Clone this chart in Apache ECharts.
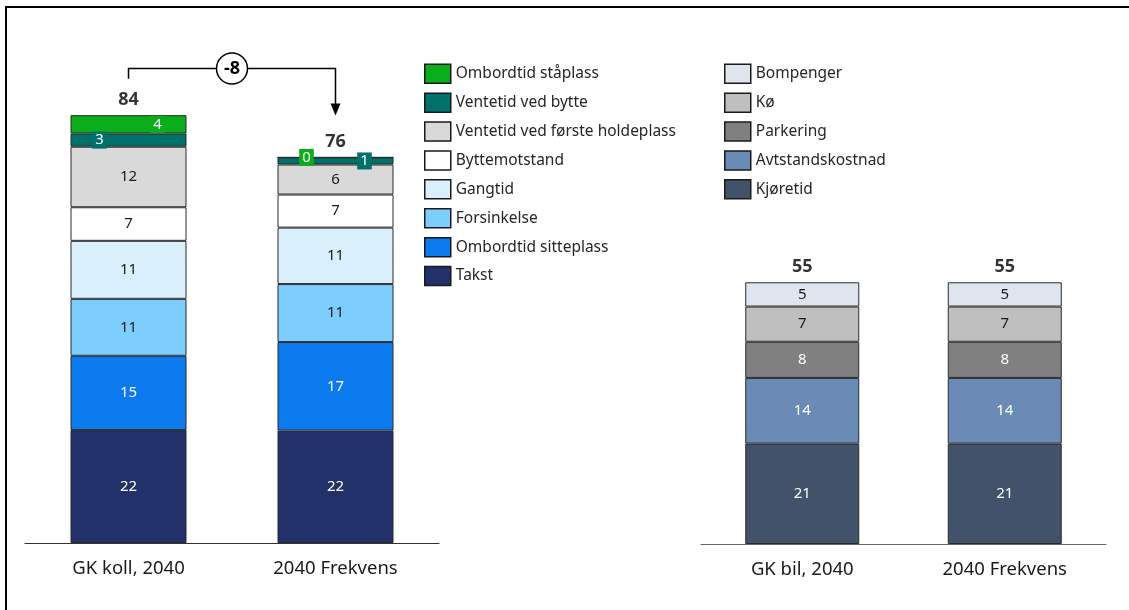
<!DOCTYPE html>
<html>
<head>
    <meta charset="utf-8">
    <script src="https://cdn.jsdelivr.net/npm/echarts@6/dist/echarts.min.js"></script>
    <style>
    html, body { margin: 0; padding: 0; background: #fff; }
    #main { width: 1129px; height: 610px; }
    </style>
    <title>Generaliserte kostnader 2040</title>
</head>
<body>
    <div id="main"></div>
    <script type="text/javascript">

        // kollektiv (venstre figur), verdier nedenfra og opp
        var kollCats = ['GK koll, 2040', '2040 Frekvens'];
        var takst = [22.2, 22.1];
        var sitteplass = [14.6, 17.4];
        var forsinkelse = [11.2, 11.4];
        var gangtid = [11.4, 11.1];
        var byttemotstand = [6.6, 6.5];
        var ventetidForste = [11.9, 5.9];
        var ventetidBytte = [2.6, 1.4];
        var staplass = [3.6, 0];

        // bil (høyre figur)
        var bilCats = ['GK bil, 2040', '2040 Frekvens'];
        var kjoretid = [21.1, 21.1];
        var avstand = [13.8, 13.8];
        var parkering = [7.6, 7.6];
        var ko = [7.4, 7.4];
        var bompenger = [5.1, 5.1];

        var font = 'Noto Sans';

        var kollSeries = [
            {name: 'Takst', data: takst, color: '#22316a', text: '#fff'},
            {name: 'Ombordtid sitteplass', data: sitteplass, color: '#0a7aee', text: '#fff'},
            {name: 'Forsinkelse', data: forsinkelse, color: '#7dcdff', text: '#1a1a1a'},
            {name: 'Gangtid', data: gangtid, color: '#daeffc', text: '#1a1a1a'},
            {name: 'Byttemotstand', data: byttemotstand, color: '#ffffff', text: '#1a1a1a'},
            {name: 'Ventetid ved første holdeplass', data: ventetidForste, color: '#d9d9d9', text: '#1a1a1a'},
            {name: 'Ventetid ved bytte', data: ventetidBytte, color: '#00706a', text: '#fff', offs: [-29, 29]},
            {name: 'Ombordtid ståplass', data: staplass, color: '#0aae1b', text: '#fff', offs: [29, -29]}
        ];
        var bilSeries = [
            {name: 'Kjøretid', data: kjoretid, color: '#42526a', text: '#fff'},
            {name: 'Avtstandskostnad', data: avstand, color: '#6b8bb7', text: '#fff'},
            {name: 'Parkering', data: parkering, color: '#808080', text: '#fff'},
            {name: 'Kø', data: ko, color: '#bfbfbf', text: '#1a1a1a'},
            {name: 'Bompenger', data: bompenger, color: '#dee5ef', text: '#1a1a1a'}
        ];

        function totals(list, n) {
            var t = [];
            for (var i = 0; i < n; i++) {
                var s = 0;
                list.forEach(function (d) { s += d.data[i]; });
                t.push(s);
            }
            return t;
        }
        var kollTot = totals(kollSeries, kollCats.length);
        var bilTot = totals(bilSeries, bilCats.length);

        function makeBars(list, idx, stack, width) {
            return list.map(function (d) {
                var data = d.data.map(function (v, i) {
                    if (!d.offs) return v;
                    return {
                        value: v,
                        label: {
                            offset: [d.offs[i], 0],
                            backgroundColor: d.color,
                            padding: [2, 3, 0, 3]
                        }
                    };
                });
                return {
                    name: d.name,
                    type: 'bar',
                    stack: stack,
                    xAxisIndex: idx,
                    yAxisIndex: idx,
                    barWidth: width,
                    data: data,
                    itemStyle: {color: d.color, borderColor: '#2b2b2b', borderWidth: 1},
                    label: {
                        show: true,
                        position: 'inside',
                        color: d.text,
                        fontFamily: font,
                        fontSize: 15,
                        formatter: function (p) { return Math.round(p.value); }
                    },
                    emphasis: {disabled: true}
                };
            });
        }

        function totalSeries(tot, idx) {
            return {
                type: 'scatter',
                xAxisIndex: idx,
                yAxisIndex: idx,
                symbolSize: 1,
                itemStyle: {color: 'rgba(0,0,0,0)'},
                data: tot.map(function (v, i) { return [i, v]; }),
                label: {
                    show: true,
                    position: 'top',
                    distance: 6,
                    color: '#000',
                    fontFamily: font,
                    fontWeight: 'bold',
                    fontSize: 18,
                    formatter: function (p) { return Math.round(p.value[1]); }
                },
                silent: true
            };
        }

        function catAxis(cats, idx, lineColor) {
            return {
                type: 'category',
                gridIndex: idx,
                data: cats,
                axisTick: {show: false},
                axisLine: {lineStyle: {color: lineColor, width: 1}},
                axisLabel: {color: '#1a1a1a', fontFamily: font, fontSize: 18.5, margin: 16}
            };
        }

        var legendText = {color: '#262626', fontFamily: font, fontSize: 15.5};

        function legendFor(list, left) {
            return {
                data: list.map(function (d) { return d.name; }).reverse(),
                orient: 'vertical',
                left: left, top: 63.5,
                padding: 0,
                icon: 'rect',
                itemWidth: 26, itemHeight: 19, itemGap: 8.4,
                itemStyle: {borderColor: '#1a1a1a', borderWidth: 1.5},
                textStyle: legendText,
                selectedMode: false
            };
        }

        var myChart = echarts.init(document.getElementById('main'));

        var option = {
            animation: false,
            grid: [
                {left: 25, right: 690, top: 34.3, bottom: 67},
                {left: 701, right: 23, top: 258.5, bottom: 66}
            ],
            xAxis: [catAxis(kollCats, 0, '#333'), catAxis(bilCats, 1, '#666')],
            yAxis: [
                {type: 'value', gridIndex: 0, min: 0, max: 100, show: false},
                {type: 'value', gridIndex: 1, min: 0, max: 60, show: false}
            ],
            legend: [legendFor(kollSeries, 424), legendFor(bilSeries, 724)],
            series: makeBars(kollSeries, 0, 'koll', 116)
                .concat(makeBars(bilSeries, 1, 'bil', 114))
                .concat([totalSeries(kollTot, 0), totalSeries(bilTot, 1)])
        };
        myChart.setOption(option);

        // ramme og endringspil mellom søylene
        var p0 = myChart.convertToPixel({xAxisIndex: 0, yAxisIndex: 0}, [0, kollTot[0]]);
        var p1 = myChart.convertToPixel({xAxisIndex: 0, yAxisIndex: 0}, [1, kollTot[1]]);
        var yTop = p0[1] - 46.7;
        var tipY = p1[1] - 42;
        var midX = (p0[0] + p1[0]) / 2;
        var diff = Math.round(kollTot[1]) - Math.round(kollTot[0]);
        var line = {stroke: '#000', lineWidth: 1.5, fill: null};

        myChart.setOption({
            graphic: [
                {type: 'polyline', shape: {points: [[6, 610], [6, 7], [1129, 7]]},
                 style: {stroke: '#000', lineWidth: 2, fill: null}},
                {type: 'polyline', shape: {points: [[p0[0], p0[1] - 36.4], [p0[0], yTop], [p1[0], yTop], [p1[0], tipY - 11]]},
                 style: line},
                {type: 'polygon', shape: {points: [[p1[0] - 5, tipY - 12], [p1[0] + 5, tipY - 12], [p1[0], tipY]]},
                 style: {fill: '#000'}},
                {type: 'circle', shape: {cx: midX, cy: yTop, r: 15.5},
                 style: {fill: '#fff', stroke: '#000', lineWidth: 1.5}},
                {type: 'text', x: midX, y: yTop,
                 style: {text: String(diff), fontFamily: font, fontWeight: 'bold', fontSize: 18,
                         fill: '#000', align: 'center', verticalAlign: 'middle'}}
            ]
        });

    </script>
</body>
</html>
